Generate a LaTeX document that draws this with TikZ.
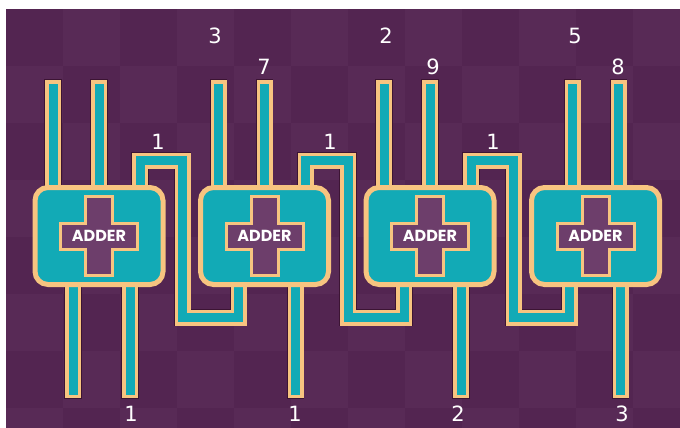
\documentclass[tikz,border=0pt]{standalone}
\usepackage{fontspec}
\setmainfont{DejaVu Sans}
\newfontfamily\chipfont{Poppins}
\usetikzlibrary{positioning}

\definecolor{bgpurple}{HTML}{532551}
\definecolor{bgpatch}{HTML}{582A56}
\definecolor{chipteal}{HTML}{12AAB6}
\definecolor{rim}{HTML}{F7C480}
\definecolor{rimshade}{HTML}{3C1433}
\definecolor{plusfill}{HTML}{6D3E6B}

\pgfdeclarelayer{back}
\pgfdeclarelayer{wires}
\pgfsetlayers{back,wires,main}

\tikzset{
  adder/.style={draw=rim, line width=5pt, fill=chipteal, rounded corners=13pt,
    minimum width=128pt, minimum height=97pt, inner sep=0pt},
  wire/.style={draw=chipteal, line width=9pt, line cap=rect,
    preaction={draw=rim, line width=16pt, line cap=rect,
      preaction={draw=rimshade, line width=17.5pt, line cap=rect}}},
  plusbar/.style={draw=rim, line width=3pt, fill=plusfill},
  addertext/.style={text=white, font=\chipfont\bfseries\fontsize{16}{16}\selectfont, inner sep=0pt},
  digit/.style={text=white, font=\fontsize{21}{21}\selectfont, inner sep=0pt}
}

\begin{document}
\begin{tikzpicture}[x=1pt, y=-1pt]
    \useasboundingbox (0,0) rectangle (680,428);

    \begin{pgfonlayer}{back}
    \fill[white] (0,0) rectangle (680,428);
    \fill[bgpurple] (6,9) rectangle (680,428);
    \foreach \i in {0,...,11} {
      \foreach \j in {0,...,7} {
        \pgfmathtruncatemacro\odd{mod(\i+\j,2)}
        \ifnum\odd=1
          \fill[bgpatch] (6+\i*57, 9+\j*57) rectangle ++(57,57);
        \fi
      }
    }
    \end{pgfonlayer}

    % the four adders
    \node[adder] (add1) at (99,236) {};
    \node[adder, right=32.5pt of add1] (add2) {};
    \node[adder, right=32.5pt of add2] (add3) {};
    \node[adder, right=32.5pt of add3] (add4) {};

    \foreach \i in {1,...,4} {
      \draw[plusbar] (add\i.center) ++(-13.5,-39.5) -- ++(27,0) -- ++(0,26.5)
        -- ++(25,0) -- ++(0,26) -- ++(-25,0) -- ++(0,26.5) -- ++(-27,0)
        -- ++(0,-26.5) -- ++(-25,0) -- ++(0,-26) -- ++(25,0) -- cycle;
      \node[addertext] (txt\i) at (add\i.center) {ADDER};
    }

    \begin{pgfonlayer}{wires}
    % inputs and sums
    \foreach \i in {1,2,3} {
      \draw[wire] ([xshift=-46pt]add\i.center) -- ++(0,-148);
      \draw[wire] (add\i.center) -- ++(0,-148);
      \draw[wire] ([xshift=31pt]add\i.center) -- ++(0,154);
    }
    \draw[wire] ([xshift=-26pt]add1.center) -- ++(0,154);
    \draw[wire] ([xshift=-23pt]add4.center) -- ++(0,-148);
    \draw[wire] ([xshift=23pt]add4.center) -- ++(0,-148);
    \draw[wire] ([xshift=25pt]add4.center) -- ++(0,154);

    % carries
    \foreach \i/\j in {1/2,2/3,3/4} {
      \draw[wire] ([xshift=-26pt]add\j.center)
        |- ([xshift=83.5pt,yshift=-81.5pt]add\i.center)
        |- ([xshift=41pt,yshift=75.5pt]add\i.center)
        -- ([xshift=41pt]add\i.center);
    }
    \end{pgfonlayer}

    \node[digit] (a2) at (215,36) {3};
    \node[digit] (b2) at (264,67) {7};
    \node[digit] (a3) at (386,36) {2};
    \node[digit] (b3) at (433,67) {9};
    \node[digit] (a4) at (575,36) {5};
    \node[digit] (b4) at (618,67) {8};

    \node[digit] (c1) at (158,142) {1};
    \node[digit] (c2) at (330,142) {1};
    \node[digit] (c3) at (493,142) {1};

    \node[digit] (s1) at (131,414) {1};
    \node[digit] (s2) at (295,414) {1};
    \node[digit] (s3) at (458,414) {2};
    \node[digit] (s4) at (622,414) {3};
\end{tikzpicture}
\end{document}
